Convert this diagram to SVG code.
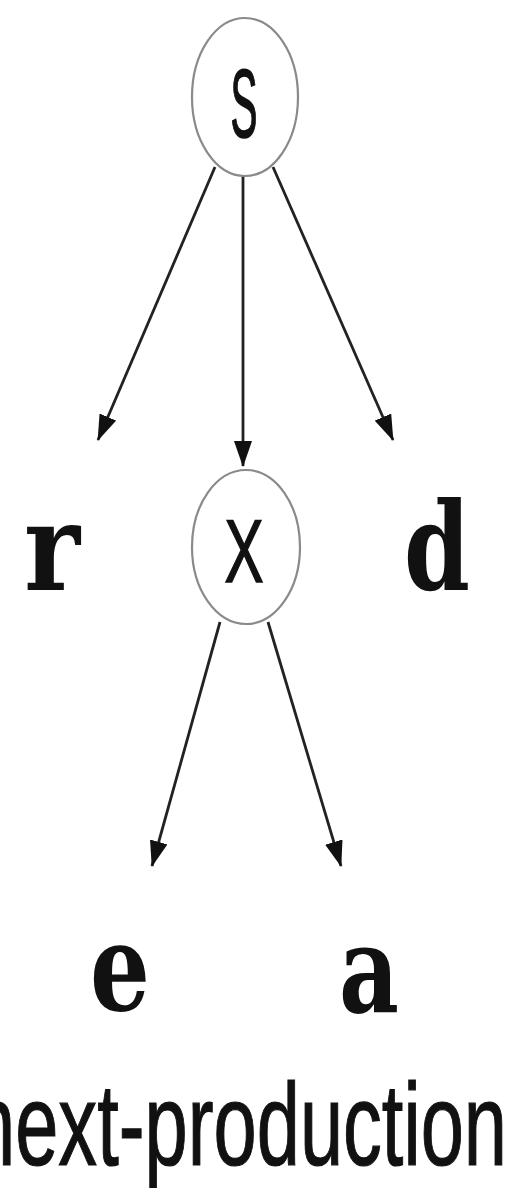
<svg xmlns="http://www.w3.org/2000/svg" width="525" height="1188" viewBox="0 0 525 1188">
<style>
.node ellipse{fill:#fff;stroke:#8a8a8a;stroke-width:2.2}
.sym{font-family:"Liberation Sans",Arial,sans-serif;fill:#111;stroke:#111;stroke-width:1.6;text-anchor:middle}
.term{font-family:"DejaVu Serif","Liberation Serif",serif;font-weight:bold;fill:#111;text-anchor:middle;font-size:122px}
.edge{stroke:#222;stroke-width:2.8;fill:none;marker-end:url(#ah)}
.cap{font-family:"Liberation Sans",Arial,sans-serif;fill:#111;stroke:#111;stroke-width:1.2;font-size:116px}
</style>
<defs>
<marker id="ah" viewBox="0 0 26 18" refX="25" refY="9" markerWidth="26" markerHeight="18" markerUnits="userSpaceOnUse" orient="auto">
<path d="M0,0 L26,9 L0,18 z" fill="#111"/>
</marker>
</defs>
<rect width="525" height="1188" fill="#fff"/>
<g id="connectors">
<line class="edge" x1="215" y1="167" x2="98" y2="440"/>
<line class="edge" x1="243" y1="176" x2="243" y2="466"/>
<line class="edge" x1="273" y1="167" x2="393" y2="440"/>
<line class="edge" x1="220" y1="622" x2="152" y2="866"/>
<line class="edge" x1="268" y1="622" x2="341" y2="866"/>
</g>
<g id="node-S" class="node">
<ellipse cx="245" cy="97" rx="53" ry="79"/>
<text class="sym" x="244" y="137" font-size="97" textLength="27" lengthAdjust="spacingAndGlyphs">S</text>
</g>
<g id="node-X" class="node">
<ellipse cx="246" cy="547" rx="54" ry="77"/>
<text class="sym" x="244" y="582" font-size="89" textLength="39" lengthAdjust="spacingAndGlyphs">X</text>
</g>
<g id="node-r"><text class="term" x="52" y="590" textLength="56" lengthAdjust="spacingAndGlyphs">r</text></g>
<g id="node-d"><text class="term" x="437" y="590" textLength="66" lengthAdjust="spacingAndGlyphs">d</text></g>
<g id="node-e"><text class="term" x="120" y="1010" textLength="60" lengthAdjust="spacingAndGlyphs">e</text></g>
<g id="node-a"><text class="term" x="369" y="1012" textLength="60" lengthAdjust="spacingAndGlyphs">a</text></g>
<text class="cap" x="-28" y="1165" textLength="535" lengthAdjust="spacingAndGlyphs">next-production</text>
</svg>
